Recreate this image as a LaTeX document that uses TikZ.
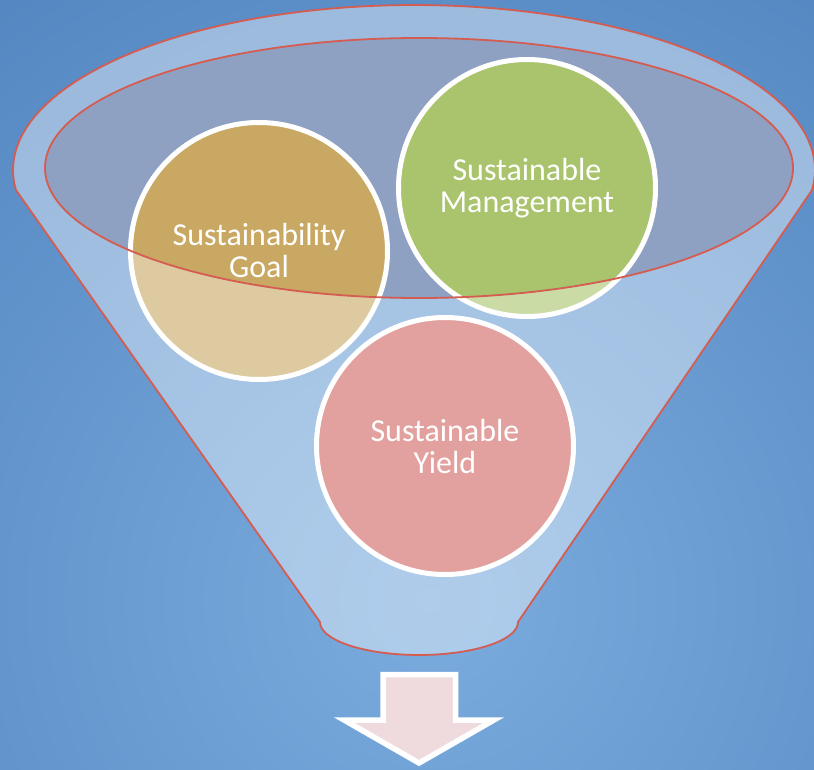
\documentclass[tikz,border=0pt]{standalone}
\usepackage{fontspec}
\setmainfont{Carlito}
\definecolor{bgin}{RGB}{122,172,222}
\definecolor{bgout}{RGB}{56,106,172}
\definecolor{innerc}{RGB}{143,161,194}
\definecolor{goalc}{RGB}{200,168,98}
\definecolor{mgmtc}{RGB}{169,196,108}
\definecolor{yieldc}{RGB}{226,161,158}
\definecolor{funred}{RGB}{212,92,80}
\definecolor{arrowc}{RGB}{239,219,221}
\begin{document}
\begin{tikzpicture}[x=1pt,y=-1pt,
  bubble/.style={circle, draw=white, line width=5pt, minimum size=257pt, inner sep=0pt},
  lbl/.style={text=white, align=center, font=\fontsize{32}{32}\selectfont},
  redline/.style={draw=funred, line width=1.8pt},
  arrowshape/.style={draw=white, fill=arrowc, line width=5.5pt, line join=miter}
]
\useasboundingbox (0,0) rectangle (814,770);
% background
\begin{scope}
  \clip (0,0) rectangle (814,770);
  \shade[inner color=bgin, outer color=bgout] (430,600) circle[radius=1300pt];
\end{scope}
\def\funnelpath{plot[domain=173:367,samples=90] ({414+401*cos(\x)},{170+165*sin(\x)}) -- plot[domain=0:180,samples=45] ({419+99*cos(\x)},{622+33*sin(\x)}) -- cycle}
% inner ellipse
\fill[innerc] (419,168) ellipse[x radius=374pt, y radius=130pt];
% circles behind the funnel body
\node[bubble, fill=goalc] (goal) at (259,251) {};
\node[bubble, fill=mgmtc] (mgmt) at (527,188) {};
% funnel body overlay
\fill[white, fill opacity=0.4, even odd rule] \funnelpath (419,168) ellipse[x radius=374pt, y radius=130pt];
% front circle
\node[bubble, fill=yieldc] (yield) at (445,446) {};
% outlines
\draw[redline, line join=round] \funnelpath;
\draw[redline] (419,168) ellipse[x radius=374pt, y radius=130pt];
% labels
\node[lbl] (goalt) at (goal.center) {Sustainability\\Goal};
\node[lbl] (mgmtt) at (mgmt.center) {Sustainable\\Management};
\node[lbl] (yieldt) at (yield.center) {Sustainable\\Yield};
% arrow
\draw[arrowshape] (383,674.5) -- (455.5,674.5) -- (455.5,720) -- (494,720) -- (419,763) -- (344,720) -- (383,720) -- cycle;
\end{tikzpicture}
\end{document}
